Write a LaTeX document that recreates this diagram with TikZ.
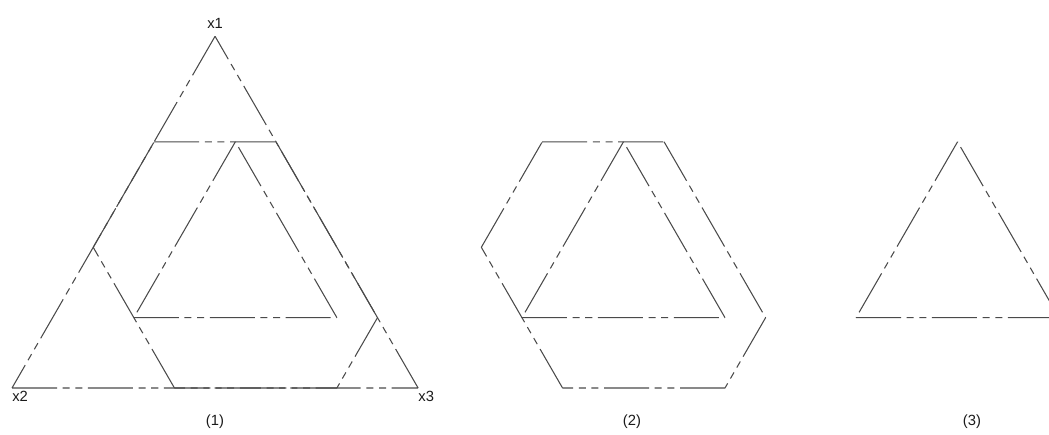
\documentclass[tikz,border=0pt]{standalone}
\usepackage{fontspec}
\setmainfont{Liberation Sans}
\usepackage{xcolor}
\usepackage{tikz}
\usetikzlibrary{positioning}
\definecolor{inkK}{HTML}{1A1A1A}
\definecolor{lineG}{HTML}{4A4A4A}

\begin{document}
\begin{tikzpicture}[x=0.025cm, y=0.025cm,
    simplex/.style={x={(10.15cm,0cm)}, y={(5.075cm,8.79cm)}},
    edge/.style={draw=lineG, line width=0.75pt,
      dash pattern=on 32pt off 4pt on 5pt off 4pt on 5pt off 4pt},
    lbl/.style={font=\fontsize{10.5}{12}\selectfont, text=inkK, inner sep=0pt}]
  \useasboundingbox (0,0) rectangle (1049,434);
  \clip (0,0) rectangle (1049,434);

  % (1) the simplex itself
  \begin{scope}[shift={(0.3cm,1.15cm)}, simplex]
    \coordinate (x1) at (0,1);
    \coordinate (x2) at (0,0);
    \coordinate (x3) at (1,0);
    \draw[edge] (x1) -- (x2) (x2) -- (x3) (x3) -- (x1);
  \end{scope}

  % (1) and (2): region x1<=.7, x2<=.6, x3<=.8 and triangle x1>=.2, x2>=.1, x3>=.2
  \foreach \dx in {0.3,10} {
    \begin{scope}[shift={(\dx cm,1.15cm)}, simplex]
      \draw[edge] (0,.7) -- (.3,.7) (.3,.7) -- (.8,.2) (.8,.2) -- (.8,0)
                  (.8,0) -- (.4,0) (.4,0) -- (0,.4) (0,.4) -- (0,.7);
      \draw[edge] (.2,.7) -- (.2,.2) (.2,.2) -- (.7,.2) (.7,.2) -- (.2,.7);
    \end{scope}
  }

  % (3) triangle only
  \begin{scope}[shift={(18.35cm,1.15cm)}, simplex]
    \draw[edge] (.2,.7) -- (.2,.2) (.2,.2) -- (.7,.2) (.7,.2) -- (.2,.7);
  \end{scope}

  % vertex labels
  \node[lbl, above=5pt of x1] (lx1) {x1};
  \node[lbl, below right=2pt and 0pt of x2] (lx2) {x2};
  \node[lbl, below right=2pt and 0pt of x3] (lx3) {x3};

  % panel captions
  \node[lbl] (cap1) at (215,12.5) {(1)};
  \node[lbl] (cap2) at (632,12.5) {(2)};
  \node[lbl] (cap3) at (972,12.5) {(3)};
\end{tikzpicture}
\end{document}
